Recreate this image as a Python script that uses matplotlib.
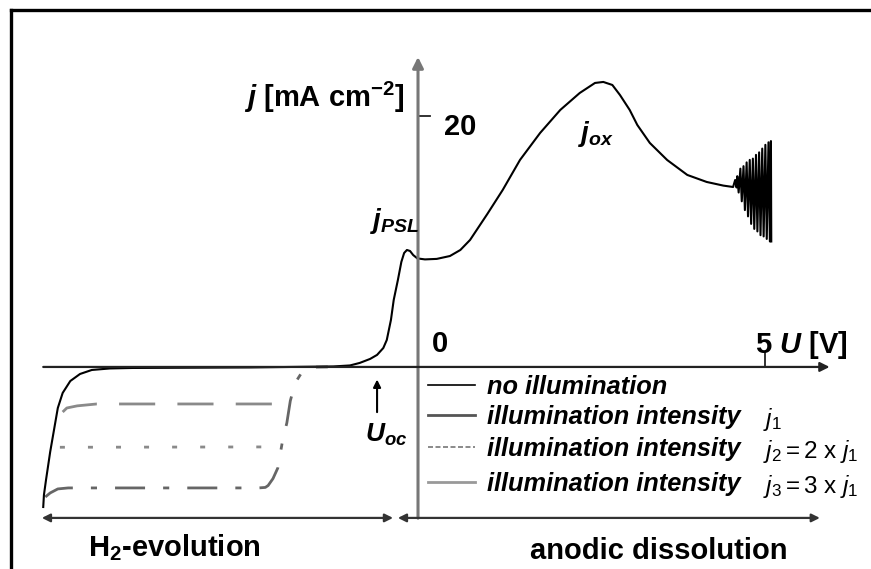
import matplotlib
matplotlib.use('Agg')
import matplotlib.pyplot as plt
from matplotlib.lines import Line2D

plt.rcParams['font.family'] = ['Liberation Sans', 'DejaVu Sans']
plt.rcParams['mathtext.fontset'] = 'custom'
plt.rcParams['mathtext.rm'] = 'Liberation Sans'
plt.rcParams['mathtext.it'] = 'Liberation Sans:italic'
plt.rcParams['mathtext.bf'] = 'Liberation Sans:bold'
plt.rcParams['mathtext.bfit'] = 'Liberation Sans:italic:bold'

# dark current: U [V], j [mA cm-2]
dark_u = [-5.40, -5.39, -5.36, -5.30, -5.24, -5.19, -5.12, -5.01, -4.87, -4.70, -4.44, -4.11,
          -2.42, -1.22, -0.98, -0.84, -0.69, -0.59, -0.50, -0.45, -0.39, -0.35, -0.29, -0.24,
          -0.20, -0.16, -0.115, -0.07, -0.01, 0.10, 0.27, 0.46, 0.61, 0.75, 1.00, 1.22, 1.47,
          1.76, 2.05, 2.33, 2.55, 2.67, 2.80, 2.91, 3.05, 3.16, 3.34, 3.59, 3.88, 4.16, 4.40,
          4.54]
dark_j = [-11.16, -10.20, -9.00, -6.77, -4.86, -3.27, -2.07, -1.12, -0.56, -0.24, -0.12, -0.08,
          -0.04, 0.04, 0.12, 0.32, 0.64, 0.96, 1.51, 2.15, 3.75, 5.34, 6.93, 8.37,
          9.08, 9.32, 9.24, 8.92, 8.65, 8.57, 8.61, 8.84, 9.32, 10.12, 12.2, 14.1, 16.5,
          18.65, 20.48, 21.83, 22.63, 22.71, 22.47, 21.67, 20.48, 19.28, 17.85, 16.49, 15.30, 14.74, 14.45,
          14.34]

# current oscillations near 5 V
osc_u = [4.57, 4.59, 4.60, 4.62, 4.645, 4.665, 4.69, 4.71, 4.735, 4.755, 4.78, 4.80, 4.825,
         4.845, 4.87, 4.89, 4.915, 4.935, 4.96, 4.98, 5.005, 5.025, 5.05, 5.07, 5.085, 5.09]
osc_j = [14.9, 14.3, 15.2, 13.9, 15.8, 13.2, 16.0, 12.5, 16.3, 12.0, 16.5, 11.4, 16.6,
         11.0, 16.9, 10.8, 17.1, 10.5, 17.4, 10.4, 17.7, 10.2, 17.9, 10.0, 18.0, 10.0]

# illuminated curves
j1_u = [-5.12, -5.06, -4.91, -4.63, -1.85]
j1_j = [-3.59, -3.27, -3.10, -2.95, -2.95]
j2_u = [-5.16, -1.98]
j2_j = [-6.40, -6.37]
j3_u = [-5.37, -5.30, -5.19, -5.04, -2.30, -2.20, -2.16, -2.09, -2.02, -1.95, -1.89, -1.84,
        -1.77, -1.67, -1.56, -1.30]
j3_j = [-10.36, -10.04, -9.72, -9.64, -9.64, -9.60, -9.45, -8.90, -8.05, -5.82, -4.46, -2.70,
        -1.27, -0.40, -0.02, 0.0]

legend_labels = ['no illumination', 'illumination intensity', 'illumination intensity',
                 'illumination intensity']
intensity_labels = ['', r'$j_1$', r'$j_2 = 2\ \mathrm{x}\ j_1$', r'$j_3 = 3\ \mathrm{x}\ j_1$']

fig = plt.figure(figsize=(8.71, 5.69), dpi=100)
ax = fig.add_axes([0, 0, 1, 1])
ax.set_xlim(-6.023, 6.527)
ax.set_ylim(-16.10, 29.24)
ax.axis('off')

# frame
fig.add_artist(Line2D([11 / 871, 11 / 871], [0, 1 - 10 / 569], transform=fig.transFigure,
                      color='black', lw=2.4))
fig.add_artist(Line2D([11 / 871, 1], [1 - 10 / 569, 1 - 10 / 569], transform=fig.transFigure,
                      color='black', lw=2.4))

# axes arrows
ax.annotate('', xy=(0, 24.7), xytext=(0, -12.05),
            arrowprops=dict(arrowstyle='-|>', color='#777777', lw=2.2, mutation_scale=16,
                            shrinkA=0, shrinkB=0))
ax.annotate('', xy=(5.93, 0), xytext=(-5.40, 0),
            arrowprops=dict(arrowstyle='-|>', color='#222222', lw=1.6, mutation_scale=14,
                            shrinkA=0, shrinkB=0))
ax.plot([0, 0.17], [20, 20], color='#222222', lw=1.3)
ax.plot([5.0, 5.0], [0, 1.1], color='#222222', lw=1.3)

# region arrows
ax.annotate('', xy=(-0.36, -12.03), xytext=(-5.42, -12.03),
            arrowprops=dict(arrowstyle='<|-|>', color='#333333', lw=1.6, mutation_scale=12,
                            shrinkA=0, shrinkB=0))
ax.annotate('', xy=(5.79, -12.03), xytext=(-0.29, -12.03),
            arrowprops=dict(arrowstyle='<|-|>', color='#333333', lw=1.6, mutation_scale=12,
                            shrinkA=0, shrinkB=0))

# curves
ax.plot(j1_u, j1_j, color='#8a8a8a', lw=2, dashes=(13, 8), solid_capstyle='butt')
ax.plot(j2_u, j2_j, color='#8a8a8a', lw=2, dashes=(1.8, 8.3))
ax.plot(j3_u, j3_j, color='#666666', lw=2, dashes=(10.8, 6.5, 2.2, 6.5))
ax.plot(dark_u + osc_u, dark_j + osc_j, color='black', lw=1.5)

# U_oc marker
ax.annotate('', xy=(-0.59, -1.0), xytext=(-0.59, -3.6),
            arrowprops=dict(arrowstyle='-|>', color='black', lw=1.5, mutation_scale=11,
                            shrinkA=0, shrinkB=0))

# legend
legend_y = [-1.43, -3.82, -6.37, -9.16]
legend_style = [dict(color='black', lw=1.2), dict(color='#555555', lw=2.0),
                dict(color='#777777', lw=1.2, dashes=(3, 1.5)), dict(color='#999999', lw=2.0)]
for y, lab, ilab, st in zip(legend_y, legend_labels, intensity_labels, legend_style):
    ax.plot([0.144, 0.82], [y, y], **st)
    ax.text(0.99, y - 0.2, lab, fontsize=18.3, fontweight='bold', fontstyle='italic',
            va='center', ha='left')
    if ilab:
        ax.text(4.97, y - 0.4, ilab, fontsize=17.5, va='center', ha='left')

# labels
big = 21
ax.text(-0.19, 21.5, r'$\mathbfit{j}$ [mA cm$^{\mathbf{-2}}$]', fontsize=big, fontweight='bold',
        ha='right', va='center')
ax.text(0.37, 19.1, '20', fontsize=big, fontweight='bold', ha='left', va='center')
ax.text(0.20, 1.8, '0', fontsize=big, fontweight='bold', ha='left', va='center')
ax.text(4.85, 1.75, r'5 $\mathbfit{U}$ [V]', fontsize=big, fontweight='bold', ha='left',
        va='center')
ax.text(-0.69, 11.6, r'$\mathbfit{j}_{\mathbfit{PSL}}$', fontsize=20, ha='left', va='center')
ax.text(2.31, 18.6, r'$\mathbfit{j}_{\mathbfit{ox}}$', fontsize=20, ha='left', va='center')
ax.text(-0.77, -5.4, r'$\mathbfit{U}_{\mathbfit{oc}}$', fontsize=19, ha='left', va='center')
ax.text(-4.75, -14.4, r'H$_{\mathbf{2}}$-evolution', fontsize=big, fontweight='bold',
        ha='left', va='center')
ax.text(1.62, -14.65, 'anodic dissolution', fontsize=big, fontweight='bold', ha='left',
        va='center')

fig.savefig('out.png', dpi=100)
